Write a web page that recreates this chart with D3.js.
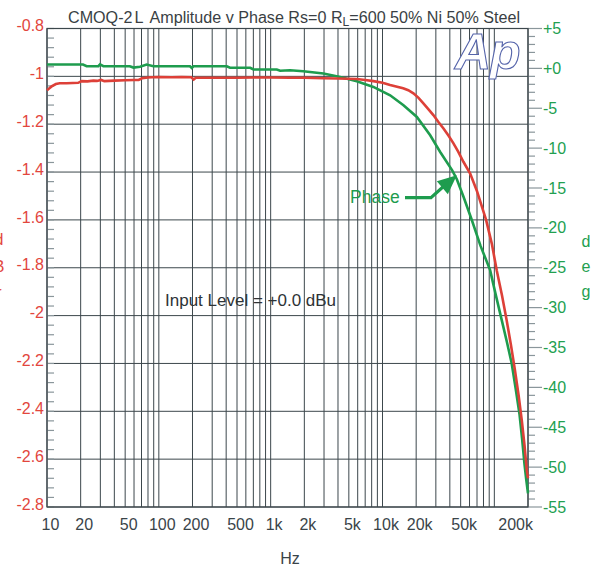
<style>body { margin: 0; }</style>
<script src="https://cdn.jsdelivr.net/npm/d3@7"></script>
<svg width="603" height="572" style="display:block"></svg>
<script>
  // amplitude (dBr, left axis)
  var ampFreq = [10, 10.5, 11, 12, 13, 15, 17, 19, 20.4, 23, 26, 28, 30.5, 32.6, 40, 50, 60, 66, 70.7, 80, 87, 100, 130, 160, 195, 205, 214, 300, 500, 700, 1000, 1490, 2000, 2940, 4000, 5890, 7000, 8290, 10000, 11700, 13500, 15300, 17000, 18900, 21000, 23200, 25800, 28500, 31500, 35100, 39000, 43100, 47500, 52900, 60800, 70000, 84500, 95000, 105000, 117000, 129000, 141000, 153000, 165000, 176000, 186000, 195000, 200000];
  var ampVal = [-1.058, -1.05, -1.042, -1.032, -1.029, -1.029, -1.028, -1.027, -1.02, -1.021, -1.018, -1.019, -1.015, -1.02, -1.018, -1.016, -1.015, -1.015, -1.008, -1.005, -1.004, -1.003, -1.004, -1.003, -1.004, -1.013, -1.006, -1.006, -1.006, -1.005, -1.005, -1.006, -1.006, -1.008, -1.009, -1.011, -1.015, -1.02, -1.027, -1.036, -1.043, -1.05, -1.058, -1.071, -1.09, -1.113, -1.138, -1.162, -1.19, -1.218, -1.248, -1.28, -1.315, -1.357, -1.406, -1.48, -1.601, -1.7, -1.81, -1.915, -2.02, -2.125, -2.229, -2.335, -2.438, -2.54, -2.647, -2.68];

  // phase (deg, right axis)
  var phFreq = [10, 15, 21, 22.6, 28.8, 29.8, 31.9, 45, 55, 59.3, 67.9, 77.8, 89.4, 130, 190, 197, 204, 300, 405, 433, 656, 702, 1134, 1215, 1490, 1960, 2960, 4180, 5890, 8290, 11700, 15400, 20300, 26700, 32800, 42000, 46200, 53000, 63000, 75000, 91700, 103000, 116600, 130000, 143000, 155000, 167700, 177000, 186000, 193000, 200000];
  var phVal = [0.48, 0.48, 0.48, 0.27, 0.27, 0.5, 0.27, 0.27, 0.27, 0.1, 0.2, 0.48, 0.27, 0.27, 0.27, 0.05, 0.27, 0.27, 0.27, 0.08, 0.08, -0.14, -0.14, -0.3, -0.23, -0.36, -0.65, -1.07, -1.61, -2.33, -3.37, -4.62, -6.09, -8.39, -10.48, -12.78, -13.9, -16.1, -19.05, -22.2, -25.3, -28.4, -31.6, -34.4, -37.0, -40.1, -43.3, -46.4, -49.6, -51.6, -53.3];

  var freqTicks = [10, 20, 50, 100, 200, 500, 1000, 2000, 5000, 10000, 20000, 50000, 200000];
  var freqLabels = ["10", "20", "50", "100", "200", "500", "1k", "2k", "5k", "10k", "20k", "50k", "200k"];
  var ampTicks = [-0.8, -1, -1.2, -1.4, -1.6, -1.8, -2, -2.2, -2.4, -2.6, -2.8];
  var ampLabels = ["-0.8", "-1", "-1.2", "-1.4", "-1.6", "-1.8", "-2", "-2.2", "-2.4", "-2.6", "-2.8"];
  var phTicks = [5, 0, -5, -10, -15, -20, -25, -30, -35, -40, -45, -50, -55];
  var phLabels = ["+5", "+0", "-5", "-10", "-15", "-20", "-25", "-30", "-35", "-40", "-45", "-50", "-55"];

  var red = "#dd4038", green = "#1e9c4e", grid = "#3c474c", tick = "#8a969b";
  var font = "'Liberation Sans', Arial, sans-serif";

  var L = 47, T = 28.5, W = 481, H = 478.5;
  var svg = d3.select("svg").style("font-family", font);
  svg.append("rect").attr("width", 603).attr("height", 572).attr("fill", "white");

  var x = d3.scaleLog().domain([10, 200000]).range([L, L + W]);
  var yA = d3.scaleLinear().domain([-0.8, -2.8]).range([T, T + H]);
  var yP = d3.scaleLinear().domain([5, -55]).range([T, T + H]);

  // vertical grid, 1..9 per decade up to 200k
  var gridF = [];
  for (var d = 10; d <= 100000; d *= 10) {
    for (var k = 1; k <= 9; k++) {
      if (d * k <= 200000) gridF.push(d * k);
    }
  }
  svg.append("g").selectAll("line").data(gridF).enter().append("line")
    .attr("x1", function(f) { return x(f); }).attr("x2", function(f) { return x(f); })
    .attr("y1", T).attr("y2", T + H)
    .attr("stroke", grid).attr("stroke-width", 1);

  // horizontal grid
  svg.append("g").selectAll("line").data(ampTicks).enter().append("line")
    .attr("x1", L).attr("x2", L + W)
    .attr("y1", function(v) { return yA(v); }).attr("y2", function(v) { return yA(v); })
    .attr("stroke", grid).attr("stroke-width", 1);

  // left minor ticks (inside)
  var ampMinor = d3.range(0, 51).map(function(i) { return -0.8 - i * 0.04; });
  svg.append("g").selectAll("line").data(ampMinor).enter().append("line")
    .attr("x1", L).attr("x2", L + 7)
    .attr("y1", function(v) { return yA(v); }).attr("y2", function(v) { return yA(v); })
    .attr("stroke", tick).attr("stroke-width", 1.2);

  // right ticks (outside)
  var phMinor = d3.range(5, -56, -1);
  svg.append("g").selectAll("line").data(phMinor).enter().append("line")
    .attr("x1", L + W).attr("x2", function(v) { return L + W + (v % 5 === 0 ? 14 : 7); })
    .attr("y1", function(v) { return yP(v); }).attr("y2", function(v) { return yP(v); })
    .attr("stroke", tick).attr("stroke-width", 1.2);

  // frame
  svg.append("rect").attr("x", L).attr("y", T).attr("width", W).attr("height", H)
    .attr("fill", "none").attr("stroke", grid).attr("stroke-width", 1.2);

  // Ap logo
  svg.append("text").attr("x", 455).attr("y", 69)
    .attr("font-size", 50).attr("font-weight", "bold").attr("font-style", "italic")
    .attr("fill", "white").attr("stroke", "#5564aa").attr("stroke-width", 1.1)
    .attr("letter-spacing", -1)
    .text("Ap");

  // curves
  var ampLine = d3.line().x(function(d, i) { return x(ampFreq[i]); }).y(function(d) { return yA(d); });
  var phLine = d3.line().x(function(d, i) { return x(phFreq[i]); }).y(function(d) { return yP(d); });
  svg.append("path").datum(phVal).attr("d", phLine)
    .attr("fill", "none").attr("stroke", green).attr("stroke-width", 2.6);
  svg.append("path").datum(ampVal).attr("d", ampLine)
    .attr("fill", "none").attr("stroke", red).attr("stroke-width", 2.6);

  // tick labels
  svg.append("g").selectAll("text").data(ampTicks).enter().append("text")
    .attr("x", 44).attr("y", function(v) { return yA(v) - 3; })
    .attr("dy", "0.35em").attr("text-anchor", "end")
    .attr("font-size", 16).attr("fill", "#e2463d")
    .text(function(v, i) { return ampLabels[i]; });

  svg.append("g").selectAll("text").data(phTicks).enter().append("text")
    .attr("x", 543).attr("y", function(v) { return yP(v); })
    .attr("dy", "0.35em")
    .attr("font-size", 16).attr("fill", "#22a050")
    .text(function(v, i) { return phLabels[i]; });

  svg.append("g").selectAll("text").data(freqTicks).enter().append("text")
    .attr("x", function(f) { return f === 200000 ? x(f) + 5 : x(f) + 3.5; })
    .attr("y", 530)
    .attr("text-anchor", function(f) { return f === 200000 ? "end" : "middle"; })
    .attr("font-size", 16).attr("fill", "#3a4449")
    .text(function(f, i) { return freqLabels[i]; });

  svg.append("text").attr("x", 290).attr("y", 564).attr("text-anchor", "middle")
    .attr("font-size", 16).attr("fill", "#3a4449").text("Hz");

  // axis names, stacked letters (left one is cut by the page edge)
  ["d", "B", "r"].forEach(function(c, i) {
    svg.append("text").attr("x", -1).attr("y", 245 + i * 26.5).attr("text-anchor", "middle")
      .attr("font-size", 16).attr("fill", "#e2463d").text(c);
  });
  ["d", "e", "g"].forEach(function(c, i) {
    svg.append("text").attr("x", 586).attr("y", 247 + i * 25).attr("text-anchor", "middle")
      .attr("font-size", 16).attr("fill", "#22a050").text(c);
  });

  // title
  var title = svg.append("text").attr("x", 68).attr("y", 23)
    .attr("font-size", 16).attr("fill", "#3a3f44")
    .attr("textLength", 452).attr("lengthAdjust", "spacingAndGlyphs");
  title.append("tspan").text("CMOQ-2");
  title.append("tspan").attr("dx", 2).text("L");
  title.append("tspan").attr("dx", 6).text("Amplitude v Phase Rs=0 R");
  title.append("tspan").attr("font-size", 12).attr("dy", 3).text("L");
  title.append("tspan").attr("dy", -3).text("=600 50% Ni 50% Steel");

  svg.append("text").attr("x", 165).attr("y", 306)
    .attr("font-size", 17).attr("fill", "#2e3336")
    .text("Input Level = +0.0 dBu");

  // Phase annotation
  var tip = [46200, -13.4];
  svg.append("text").attr("x", 350).attr("y", 203)
    .attr("font-size", 17.5).attr("fill", green).text("Phase");
  svg.append("path")
    .attr("d", "M" + 405 + "," + yP(-16.2) + "H" + 431 + "L" + (x(tip[0]) - 12) + "," + (yP(tip[1]) + 10))
    .attr("fill", "none").attr("stroke", green).attr("stroke-width", 3.2);
  var tx = x(tip[0]), ty = yP(tip[1]);
  svg.append("path")
    .attr("d", "M" + tx + "," + ty + "L" + (tx - 20) + "," + (ty + 6) + "L" + (tx - 9) + "," + (ty + 19) + "Z")
    .attr("fill", green);
</script>
